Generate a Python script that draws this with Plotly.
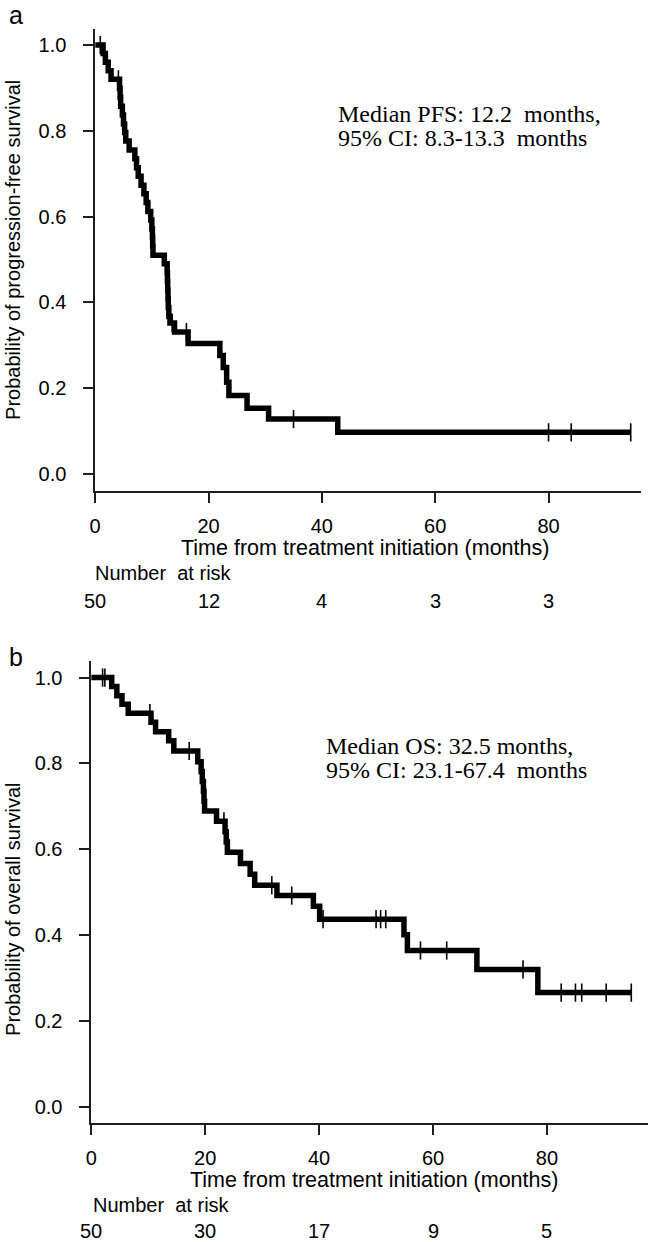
import numpy as np
import plotly.graph_objects as go

# ---------------- data ----------------
# Panel a: progression-free survival (KM step points: time of drop, survival after drop)
pfs_time = [0, 1.4, 1.8, 2.3, 2.8, 4.3, 4.4, 4.5, 4.8, 5.0, 5.2, 5.4, 6.0, 7.0, 7.3, 7.6, 8.1, 8.6,
            9.0, 9.3, 9.8, 10.0, 10.1, 10.15, 10.2, 12.2, 12.7, 12.75, 12.8, 12.85, 12.9, 13.0,
            13.2, 14.0, 16.4, 22.0, 22.6, 23.2, 23.6, 26.8, 30.6, 42.8]
pfs_surv = [1.0, 0.98, 0.96, 0.94, 0.92, 0.899, 0.878, 0.857, 0.837, 0.816, 0.796, 0.776, 0.755,
            0.735, 0.714, 0.694, 0.673, 0.653, 0.633, 0.612, 0.592, 0.571, 0.551, 0.531, 0.51,
            0.49, 0.469, 0.449, 0.429, 0.408, 0.388, 0.367, 0.352, 0.331, 0.304, 0.276, 0.248,
            0.214, 0.183, 0.153, 0.128, 0.097]
pfs_censor = [0.9, 4.1, 13.6, 16.1, 35.0, 80.0, 84.0, 94.5]

# Panel b: overall survival
os_time = [0, 3.6, 4.5, 5.4, 6.5, 10.5, 11.3, 13.6, 14.5, 18.7, 19.3, 19.5, 19.7, 19.8, 19.9,
           22.0, 23.5, 23.7, 23.9, 26.2, 27.9, 28.7, 32.6, 39.0, 40.1, 54.9, 55.5, 67.7, 78.4]
os_surv = [1.0, 0.979, 0.958, 0.938, 0.917, 0.896, 0.874, 0.853, 0.829, 0.804, 0.781, 0.758,
           0.735, 0.712, 0.689, 0.665, 0.641, 0.617, 0.593, 0.567, 0.542, 0.516, 0.492, 0.467,
           0.437, 0.401, 0.364, 0.320, 0.266]
os_censor = [2.0, 2.4, 10.3, 17.2, 23.3, 31.7, 35.2, 40.7, 50.0, 50.8, 51.7, 57.8, 62.4, 75.8,
             82.5, 85.0, 86.1, 90.4, 94.8]

x_ticks = [0, 20, 40, 60, 80]
y_ticks = [0.0, 0.2, 0.4, 0.6, 0.8, 1.0]
pfs_at_risk = ["50", "12", "4", "3", "3"]
os_at_risk = ["50", "30", "17", "9", "5"]

pfs_text = ["Median PFS: 12.2\u00a0\u00a0months,", "95% CI: 8.3-13.3\u00a0\u00a0months"]
os_text = ["Median OS: 32.5 months,", "95% CI: 23.1-67.4\u00a0\u00a0months"]

# ---------------- layout helpers ----------------
W, H = 650, 1242
def px(x):
    return x / W
def py(y):
    return 1 - y / H

SANS = "Liberation Sans, Arial, sans-serif"
SERIF = "Liberation Serif, Times New Roman, serif"
AX = "#1e1e1e"


def km_step_value(times, surv, t):
    idx = np.searchsorted(np.array(times), t, side="right") - 1
    return [surv[i] for i in idx]


fig = go.Figure()


def add_panel(times, surv, censor, xa, ya):
    lx = list(times) + [censor[-1]]
    ly = list(surv) + [surv[-1]]
    fig.add_trace(go.Scatter(x=lx, y=ly, mode="lines", line=dict(shape="hv", color="black", width=5.5),
                             xaxis=xa, yaxis=ya, showlegend=False, hoverinfo="skip"))
    cy = km_step_value(times, surv, censor)
    fig.add_trace(go.Scatter(x=censor, y=cy, mode="markers",
                             marker=dict(symbol="line-ns-open", size=13, color="black",
                                         line=dict(color="black", width=1.6)),
                             xaxis=xa, yaxis=ya, showlegend=False, hoverinfo="skip"))


add_panel(pfs_time, pfs_surv, pfs_censor, "x", "y")
add_panel(os_time, os_surv, os_censor, "x2", "y2")

axis_common = dict(showgrid=False, zeroline=False, showline=True, linecolor=AX, linewidth=1.5,
                   ticks="outside", ticklen=10, tickwidth=1.5, tickcolor=AX,
                   tickfont=dict(family=SANS, size=20, color="black"))

fig.update_layout(
    width=W, height=H, margin=dict(l=0, r=0, t=0, b=0),
    paper_bgcolor="white", plot_bgcolor="white",
    xaxis=dict(domain=[px(90), px(641)], range=[0, (641 - 90) / 5.72], anchor="y",
               tickvals=x_ticks, ticklabelstandoff=6, **axis_common),
    yaxis=dict(domain=[py(491), py(29)], range=[-0.0397, 1.0373], anchor="x",
               tickvals=y_ticks, tickformat=".1f", ticklabelstandoff=13, **axis_common),
    xaxis2=dict(domain=[px(86), px(648)], range=[0, (648 - 86) / 5.75], anchor="y2",
                tickvals=x_ticks, ticklabelstandoff=6, **axis_common),
    yaxis2=dict(domain=[py(1123.3), py(661)], range=[-0.0387, 1.0387], anchor="x2",
                tickvals=y_ticks, tickformat=".1f", ticklabelstandoff=13, **axis_common),
)

ann = []
def text(x, y, s, size=20, family=SANS, xanchor="center", angle=0, xref="paper"):
    ann.append(dict(x=x, y=y, xref=xref, yref="paper", text=s, showarrow=False,
                    xanchor=xanchor, yanchor="middle", textangle=angle,
                    font=dict(family=family, size=size, color="black")))

# panel a
text(px(10.5), py(14.5), "a", size=25)
text(px(7), py(250), "Probability of progression-free survival", size=20, angle=-90)
text(px(362), py(548), "Time from treatment initiation (months)", size=21.5)
text(px(88), py(573), "Number\u00a0\u00a0at risk", size=20, xanchor="left")
for xv, n in zip(x_ticks, pfs_at_risk):
    text(xv, py(601), n, size=20, xref="x")
text(px(333), py(114), pfs_text[0], size=24, family=SERIF, xanchor="left")
text(px(333), py(138), pfs_text[1], size=24, family=SERIF, xanchor="left")

# panel b
text(px(10.5), py(657), "b", size=25)
text(px(7), py(909), "Probability of overall survival", size=20, angle=-90)
text(px(371), py(1180), "Time from treatment initiation (months)", size=21.5)
text(px(86), py(1205), "Number\u00a0\u00a0at risk", size=20, xanchor="left")
for xv, n in zip(x_ticks, os_at_risk):
    text(xv, py(1230.5), n, size=20, xref="x2")
text(px(321), py(746), os_text[0], size=24, family=SERIF, xanchor="left")
text(px(321), py(770), os_text[1], size=24, family=SERIF, xanchor="left")

fig.update_layout(annotations=ann)
fig.write_html("out.html", config={"displayModeBar": False},
               post_script="document.body.style.margin='0';document.body.style.overflow='hidden';")
